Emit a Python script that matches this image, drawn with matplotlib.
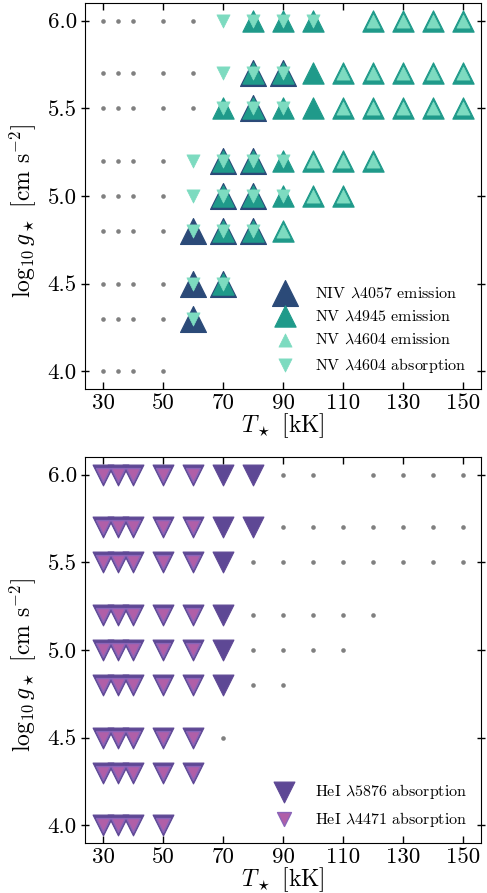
import numpy as np
import matplotlib
matplotlib.use("Agg")
import matplotlib.pyplot as plt

plt.rcParams['font.family'] = ['cmr10', 'DejaVu Serif']
plt.rcParams['mathtext.fontset'] = 'cm'
plt.rcParams['axes.formatter.use_mathtext'] = True

# model grid (T in kK, log g)
grid_T = [30, 35, 40, 50, 60, 70, 80, 90, 100, 120, 130, 140, 150,
          30, 35, 40, 50, 60, 70, 80, 90, 100, 110, 120, 130, 140, 150,
          30, 35, 40, 50, 60, 70, 80, 90, 100, 110, 120, 130, 140, 150,
          30, 35, 40, 50, 60, 70, 80, 90, 100, 110, 120,
          30, 35, 40, 50, 60, 70, 80, 90, 100, 110,
          30, 35, 40, 50, 60, 70, 80, 90,
          30, 35, 40, 50, 60, 70,
          30, 35, 40, 50, 60,
          30, 35, 40, 50]
grid_logg = [6.0] * 13 + [5.7] * 14 + [5.5] * 14 + [5.2] * 11 + [5.0] * 10 \
    + [4.8] * 8 + [4.5] * 6 + [4.3] * 5 + [4.0] * 4

# top panel: nitrogen lines
niv4057_T = [80, 90, 80, 70, 80, 70, 80, 60, 70, 80, 60, 70, 60]
niv4057_logg = [5.7, 5.7, 5.5, 5.2, 5.2, 5.0, 5.0, 4.8, 4.8, 4.8, 4.5, 4.5, 4.3]

nv4945_T = [80, 90, 100, 120, 130, 140, 150,
            80, 90, 100, 110, 120, 130, 140, 150,
            70, 80, 90, 100, 110, 120, 130, 140, 150,
            70, 80, 90, 100, 110, 120,
            70, 80, 90, 100, 110,
            70, 80, 90,
            70]
nv4945_logg = [6.0] * 7 + [5.7] * 8 + [5.5] * 9 + [5.2] * 6 + [5.0] * 5 + [4.8] * 3 + [4.5]

nv4604em_T = [120, 130, 140, 150, 110, 120, 130, 140, 150,
              110, 120, 130, 140, 150, 100, 110, 120, 100, 110, 90]
nv4604em_logg = [6.0] * 4 + [5.7] * 5 + [5.5] * 5 + [5.2] * 3 + [5.0] * 2 + [4.8]

nv4604abs_T = [70, 80, 90, 100, 70, 80, 90, 70, 80, 90,
               60, 70, 80, 90, 60, 70, 80, 90, 60, 70, 80, 60, 70, 60]
nv4604abs_logg = [6.0] * 4 + [5.7] * 3 + [5.5] * 3 + [5.2] * 4 + [5.0] * 4 \
    + [4.8] * 3 + [4.5] * 2 + [4.3]

# bottom panel: helium lines
hei5876_T = [30, 35, 40, 50, 60, 70, 80,
             30, 35, 40, 50, 60, 70, 80,
             30, 35, 40, 50, 60, 70,
             30, 35, 40, 50, 60, 70,
             30, 35, 40, 50, 60, 70,
             30, 35, 40, 50, 60, 70,
             30, 35, 40, 50, 60,
             30, 35, 40, 50, 60,
             30, 35, 40, 50]
hei5876_logg = [6.0] * 7 + [5.7] * 7 + [5.5] * 6 + [5.2] * 6 + [5.0] * 6 \
    + [4.8] * 6 + [4.5] * 5 + [4.3] * 5 + [4.0] * 4

hei4471_T = [30, 35, 40, 50, 60] * 8 + [30, 35, 40, 50]
hei4471_logg = [6.0] * 5 + [5.7] * 5 + [5.5] * 5 + [5.2] * 5 + [5.0] * 5 \
    + [4.8] * 5 + [4.5] * 5 + [4.3] * 5 + [4.0] * 4

xticks = [30, 50, 70, 90, 110, 130, 150]
yticks = [4.0, 4.5, 5.0, 5.5, 6.0]

c_niv = '#2b4a78'
c_nv = '#1f9a8a'
c_light = '#7ddbc0'
c_hei1 = '#5e4895'
c_hei2 = '#b05fa8'


def style_axes(ax):
    ax.set_xlim(24, 156)
    ax.set_ylim(3.9, 6.1)
    ax.set_xticks(xticks)
    ax.set_xticklabels(['%d' % v for v in xticks])
    ax.set_yticks(yticks)
    ax.set_yticklabels(['%.1f' % v for v in yticks])
    ax.tick_params(axis='both', which='major', labelsize=16.5, direction='in',
                   length=5, width=1, top=True, right=True, pad=3)
    ax.tick_params(axis='y', which='major', left=True, direction='inout', length=6)
    ax.set_xlabel(r'$T_\star$ [kK]', fontsize=17, labelpad=-1)
    ax.set_ylabel(r'$\log_{10} g_\star$ [cm s$^{-2}$]', fontsize=17)
    ax.yaxis.set_label_coords(-0.118, 0.46)
    ax.scatter(grid_T, grid_logg, s=11, color='gray', zorder=1, lw=0)


fig = plt.figure(figsize=(4.87, 8.93), dpi=100)
ax1 = fig.add_axes([0.1745, 0.5644, 0.8135, 0.4322])
ax2 = fig.add_axes([0.1745, 0.0560, 0.8135, 0.4322])

style_axes(ax1)
ax1.scatter(niv4057_T, niv4057_logg, marker='^', s=350, color=c_niv, lw=0.8,
            edgecolor=c_niv, zorder=2, label=r'NIV $\lambda$4057 emission')
ax1.scatter(nv4945_T, nv4945_logg, marker='^', s=235, color=c_nv, lw=0.8,
            edgecolor=c_nv, zorder=3, label=r'NV $\lambda$4945 emission')
ax1.scatter(nv4604em_T, nv4604em_logg, marker='^', s=90, color=c_light, lw=0.5,
            edgecolor=c_light, zorder=4, label=r'NV $\lambda$4604 emission')
ax1.scatter(nv4604abs_T, nv4604abs_logg, marker='v', s=90, color=c_light, lw=0.5,
            edgecolor=c_light, zorder=5, label=r'NV $\lambda$4604 absorption')
ax1.legend(loc='lower right', frameon=False, fontsize=11.5, scatterpoints=1,
           handletextpad=0.9, labelspacing=0.55, borderaxespad=0.5)

style_axes(ax2)
ax2.scatter(hei5876_T, hei5876_logg, marker='v', s=225, color=c_hei1, lw=0.8,
            edgecolor=c_hei1, zorder=2, label=r'HeI $\lambda$5876 absorption')
ax2.scatter(hei4471_T, hei4471_logg, marker='v', s=100, color=c_hei2, lw=1.0,
            edgecolor='#8a64b8', zorder=3, label=r'HeI $\lambda$4471 absorption')
ax2.legend(loc='lower right', frameon=False, fontsize=11.5, scatterpoints=1,
           handletextpad=0.9, labelspacing=0.55, borderaxespad=0.5)

fig.savefig('out.png', dpi=100)
